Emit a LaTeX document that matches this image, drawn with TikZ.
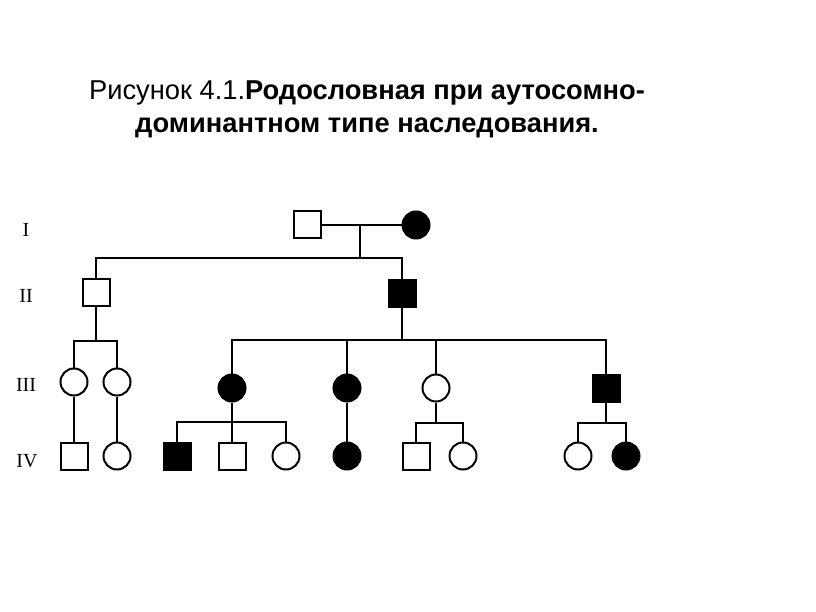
\documentclass[tikz,border=0pt]{standalone}
\usepackage{fontspec}
\setmainfont{Liberation Sans}
\newfontfamily\serifnum{Liberation Serif}
\begin{document}
\begin{tikzpicture}[x=1pt,y=-1pt,
  male/.style={draw=black,line width=2pt,rectangle,minimum size=27pt,inner sep=0pt,fill=white},
  female/.style={draw=black,line width=2pt,circle,minimum size=27pt,inner sep=0pt,fill=white},
  aff/.style={fill=black},
  link/.style={draw=black,line width=2pt},
  gen/.style={font=\serifnum\fontsize{20}{24}\selectfont,anchor=base},
  ttl/.style={font=\fontsize{27.3}{32}\selectfont,anchor=base}]
\useasboundingbox (0,0) rectangle (816,612);
% title
\node[ttl] (t1) at (367,100) {Рисунок 4.1.\textbf{Родословная при аутосомно-}};
\node[ttl] (t2) at (367,133) {\textbf{доминантном типе наследования.}};
% generation labels
\node[gen] (gI) at (26,237) {I};
\node[gen] (gII) at (26,302) {II};
\node[gen] (gIII) at (26,391) {III};
\node[gen] (gIV) at (27,467) {IV};
% generation I
\node[male] (I1) at (307,225) {};
\node[female,aff] (I2) at (416,225) {};
% generation II
\node[male] (II1) at (96,292) {};
\node[male,aff] (II2) at (402,293) {};
% generation III
\node[female] (III1) at (74,382) {};
\node[female] (III2) at (117,382) {};
\node[female,aff] (III3) at (232,388) {};
\node[female,aff] (III4) at (347,388) {};
\node[female] (III5) at (436,388) {};
\node[male,aff] (III6) at (606,388) {};
% generation IV
\node[male] (IV1) at (74,456) {};
\node[female] (IV2) at (117,456) {};
\node[male,aff] (IV3) at (177,456) {};
\node[male] (IV4) at (232,456) {};
\node[female] (IV5) at (286,456) {};
\node[female,aff] (IV6) at (347,456) {};
\node[male] (IV7) at (416,456) {};
\node[female] (IV8) at (463,456) {};
\node[female] (IV9) at (578,456) {};
\node[female,aff] (IV10) at (626,456) {};
% connector points
\coordinate (m1) at (360,225);
\coordinate (d1) at (360,258);
\coordinate (s2) at (96,341);
\coordinate (s3) at (402,340);
\coordinate (s4) at (232,422);
\coordinate (s5) at (436,423);
\coordinate (s6) at (606,423);
% connectors
\draw[link] (I1) -- (I2);
\draw[link] (m1) -- (d1);
\draw[link] (II1) |- (d1) -| (II2);
\draw[link] (II1) -- (s2);
\draw[link] (III1) |- (s2) -| (III2);
\draw[link] (III1) -- (IV1);
\draw[link] (III2) -- (IV2);
\draw[link] (II2) -- (s3);
\draw[link] (III3) |- (s3) -| (III6);
\draw[link] (III4) -- (III4 |- s3);
\draw[link] (III5) -- (III5 |- s3);
\draw[link] (III3) -- (IV4);
\draw[link] (IV3) |- (s4) -| (IV5);
\draw[link] (III4) -- (IV6);
\draw[link] (III5) -- (s5);
\draw[link] (IV7) |- (s5) -| (IV8);
\draw[link] (III6) -- (s6);
\draw[link] (IV9) |- (s6) -| (IV10);
\end{tikzpicture}
\end{document}
